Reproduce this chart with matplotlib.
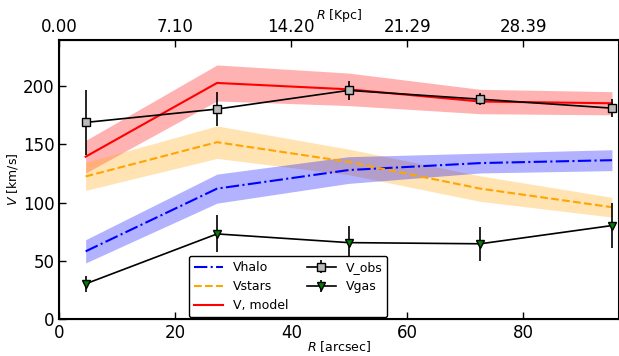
import numpy as np
import matplotlib
matplotlib.use('Agg')
import matplotlib.pyplot as plt
from matplotlib.ticker import FixedLocator, FuncFormatter

# radii of the sampled rings (arcsec) and arcsec -> kpc conversion
r = [4.54, 27.2, 49.9, 72.6, 95.3]
kpc_per_arcsec = 0.3549

# rotation curve components [km/s]
v_halo = [58, 112, 128, 134, 136.5]
v_halo_err = [10, 12.5, 11.5, 8.5, 9]
v_stars = [122.5, 152, 135, 112, 96]
v_stars_err = [12, 14, 11, 11, 8.5]
v_model = [139.5, 203, 197.5, 187, 185.5]
v_model_err = [14, 15.5, 14, 10.5, 10]

# observed curve and gas contribution
v_obs = [169, 180.5, 196.6, 189, 181.3]
v_obs_err = [28, 15, 8, 5, 7.5]
v_gas = [30, 73, 65.5, 64.5, 80.2]
v_gas_err = [7, 16, 14, 14.5, 19]

fig = plt.figure(figsize=(6.19, 3.56), dpi=100)
ax = fig.add_axes([0.0958, 0.1048, 0.905, 0.7829])

r = np.array(r)
for v, e, c in [(v_model, v_model_err, 'red'), (v_stars, v_stars_err, 'orange'),
                (v_halo, v_halo_err, 'blue')]:
    v, e = np.array(v), np.array(e)
    ax.fill_between(r, v - e, v + e, color=c, alpha=0.3, lw=0)

ax.plot(r, v_halo, '-.', color='blue', lw=1.5, label='Vhalo')
ax.plot(r, v_stars, '--', color='orange', lw=1.5, label='Vstars')
ax.plot(r, v_model, '-', color='red', lw=1.5, label='V, model')
ax.errorbar(r, v_obs, yerr=v_obs_err, fmt='s-', color='k', mfc='#bbbbbb', mec='k',
            ms=6, lw=1.2, elinewidth=1.2, label='V_obs')
ax.errorbar(r, v_gas, yerr=v_gas_err, fmt='v-', color='k', mfc='green', mec='k',
            ms=6, lw=1.2, elinewidth=1.2, label='Vgas')

ax.set_xlim(0, 96.6)
ax.set_ylim(0, 240)
ax.set_xticks([0, 20, 40, 60, 80])
ax.set_yticks([0, 50, 100, 150, 200])
ax.tick_params(direction='in', labelsize=12, length=5, width=1, top=False, right=False)
ax.set_xlabel('$R$ [arcsec]', fontsize=9, labelpad=-2)
ax.set_ylabel('$V$ [km/s]', fontsize=9, labelpad=2)
for s in ax.spines.values():
    s.set_linewidth(1.5)

ax2 = ax.twiny()
ax2.set_xlim(ax.get_xlim())
ax2.xaxis.set_major_locator(FixedLocator([0, 20, 40, 60, 80]))
ax2.xaxis.set_major_formatter(FuncFormatter(lambda x, p: '%.2f' % (x * kpc_per_arcsec)))
ax2.tick_params(direction='in', labelsize=12, length=5, width=1, pad=3)
ax2.set_xlabel('$R$ [Kpc]', fontsize=9, labelpad=-1)

leg = ax.legend(ncol=2, loc='lower left', bbox_to_anchor=(0.229, 0.0), fontsize=9,
                frameon=True, fancybox=True, borderaxespad=0.1, columnspacing=1.5,
                handlelength=2.3)
leg.get_frame().set_edgecolor('k')
leg.get_frame().set_alpha(1)

fig.savefig('out.png', dpi=100)
